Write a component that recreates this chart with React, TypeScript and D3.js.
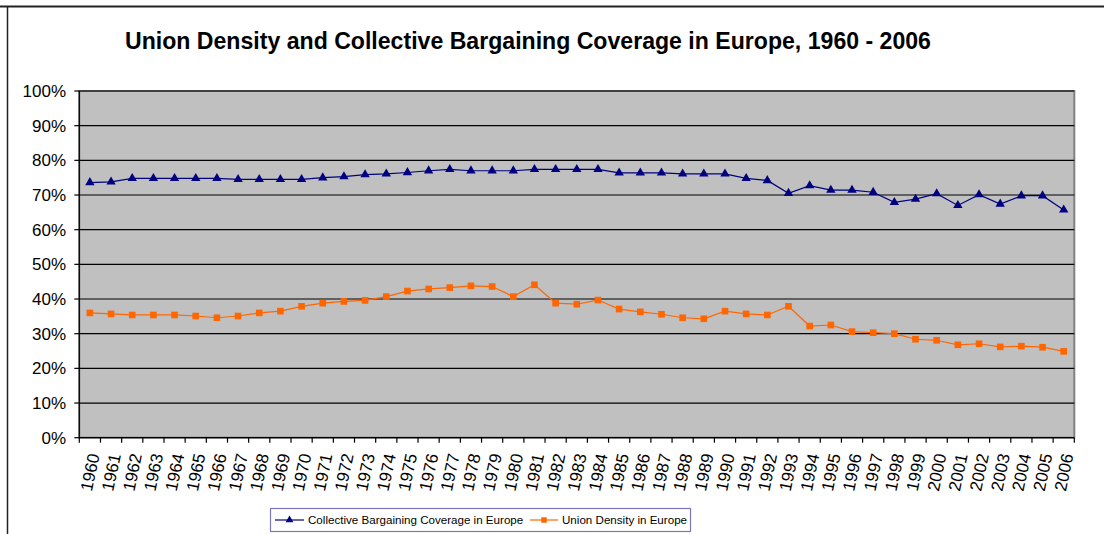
import React from "react";
import * as d3 from "d3";

const years: string[] = d3.range(1960, 2007).map(String);

const coverage: number[] = [
  73.6, 73.8, 74.8, 74.8, 74.8, 74.8, 74.8, 74.5, 74.5, 74.5,
  74.5, 75.0, 75.3, 75.9, 76.1, 76.5, 77.0, 77.4, 77.0, 77.0,
  77.0, 77.4, 77.4, 77.4, 77.4, 76.4, 76.4, 76.4, 76.1, 76.1,
  76.1, 74.8, 74.2, 70.5, 72.7, 71.4, 71.4, 70.8, 67.9, 68.8,
  70.4, 67.0, 70.1, 67.4, 69.8, 69.8, 65.7,
];

const density: number[] = [
  36.0, 35.7, 35.4, 35.4, 35.4, 35.1, 34.6, 35.1, 36.0, 36.5,
  37.9, 38.8, 39.3, 39.6, 40.7, 42.3, 42.9, 43.3, 43.8, 43.6,
  40.7, 44.1, 38.8, 38.5, 39.7, 37.1, 36.3, 35.6, 34.6, 34.3,
  36.5, 35.7, 35.4, 37.9, 32.2, 32.5, 30.6, 30.3, 30.0, 28.4,
  28.1, 26.8, 27.1, 26.2, 26.4, 26.1, 24.9,
];

const yTicks: number[] = d3.range(0, 101, 10);

const seriesNames = [
  "Collective Bargaining Coverage in Europe",
  "Union Density in Europe",
];

const title = "Union Density and Collective Bargaining Coverage in Europe, 1960 - 2006";

const FONT = "'Liberation Sans', Arial, Helvetica, sans-serif";

export default function App() {
  const W = 1104;
  const H = 534;
  const left = 79.3;
  const right = 1074.3;
  const top = 91;
  const bottom = 437.7;

  const x = d3.scaleBand<string>().domain(years).range([left, right]);
  const y = d3.scaleLinear().domain([0, 100]).range([bottom, top]);
  const cx = (yr: string) => (x(yr) as number) + x.bandwidth() / 2;

  const line = d3
    .line<number>()
    .x((_, i) => cx(years[i]))
    .y((d) => y(d));

  const tri = d3.symbol().type(d3.symbolTriangle).size(38)() as string;
  const sq = d3.symbol().type(d3.symbolSquare).size(44)() as string;

  const boundaries = d3.range(0, years.length + 1).map((i) => left + i * x.bandwidth());

  return (
    <svg
      width={W}
      height={H}
      style={{ position: "absolute", left: 0, top: 0, background: "#fff" }}
      fontFamily={FONT}
    >
      <rect x={0} y={0} width={W} height={H} fill="#fff" />
      {/* frame */}
      <line x1={0} x2={W} y1={6.5} y2={6.5} stroke="#222" strokeWidth={2} />
      <line x1={7.5} x2={7.5} y1={6} y2={H} stroke="#222" strokeWidth={1.5} />

      {/* title */}
      <text x={528} y={49} textAnchor="middle" fontWeight="bold" fontSize={23.1} fill="#000">
        {title}
      </text>

      {/* plot area */}
      <rect
        x={left}
        y={top}
        width={right - left}
        height={bottom - top}
        fill="#C0C0C0"
        stroke="#808080"
        strokeWidth={2}
      />
      {yTicks.map((t) =>
        t === 0 ? null : (
          <line key={"g" + t} x1={left} x2={right} y1={y(t)} y2={y(t)} stroke="#000" strokeWidth={1.2} />
        )
      )}
      {/* axes */}
      <line x1={left} x2={left} y1={top} y2={bottom} stroke="#000" strokeWidth={1.2} />
      <line x1={left} x2={right} y1={bottom} y2={bottom} stroke="#000" strokeWidth={1.2} />
      {yTicks.map((t) => (
        <g key={"yt" + t}>
          <line x1={left - 5} x2={left} y1={y(t)} y2={y(t)} stroke="#000" strokeWidth={1.2} />
          <text x={66} y={y(t)} dy="0.36em" textAnchor="end" fontSize={17} fill="#000">
            {t + "%"}
          </text>
        </g>
      ))}
      {boundaries.map((b, i) => (
        <line key={"xt" + i} x1={b} x2={b} y1={bottom} y2={bottom + 5} stroke="#000" strokeWidth={1.2} />
      ))}
      {years.map((yr) => (
        <text
          key={"xl" + yr}
          transform={`translate(${cx(yr) + 4},${bottom + 16}) rotate(-78)`}
          textAnchor="end"
          fontSize={17}
          fill="#000"
          dy="0.35em"
        >
          {yr}
        </text>
      ))}

      {/* series */}
      <path d={line(coverage) as string} fill="none" stroke="#000080" strokeWidth={1.2} />
      {coverage.map((v, i) => (
        <path key={"c" + i} d={tri} transform={`translate(${cx(years[i])},${y(v)})`} fill="#000080" />
      ))}
      <path d={line(density) as string} fill="none" stroke="#FF6600" strokeWidth={1.2} />
      {density.map((v, i) => (
        <path key={"d" + i} d={sq} transform={`translate(${cx(years[i])},${y(v)})`} fill="#FF6600" />
      ))}

      {/* legend */}
      <g>
        <rect x={270.5} y={508.5} width={420} height={23} fill="#fff" stroke="#7878B8" strokeWidth={1.2} />
        <line x1={275} x2={304} y1={520} y2={520} stroke="#000080" strokeWidth={1.2} />
        <path d={d3.symbol().type(d3.symbolTriangle).size(26)() as string} transform="translate(289.5,520)" fill="#000080" />
        <text x={308} y={520} dy="0.35em" fontSize={11.6} fill="#000">{seriesNames[0]}</text>
        <line x1={530} x2={558} y1={520} y2={520} stroke="#FF6600" strokeWidth={1.2} />
        <path d={d3.symbol().type(d3.symbolSquare).size(30)() as string} transform="translate(544,520)" fill="#FF6600" />
        <text x={562} y={520} dy="0.35em" fontSize={11.6} fill="#000">{seriesNames[1]}</text>
      </g>
    </svg>
  );
}
